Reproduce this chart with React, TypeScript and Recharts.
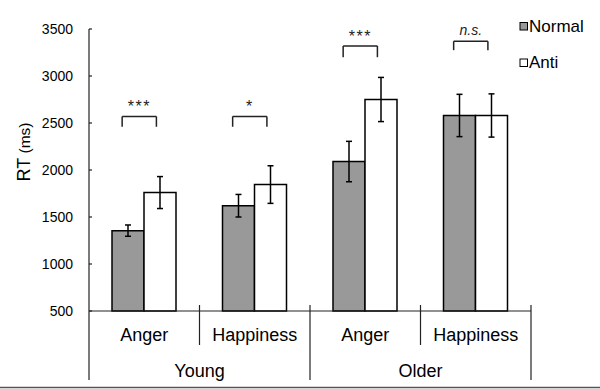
import { BarChart, Bar, XAxis, YAxis, ErrorBar, ReferenceLine, ReferenceDot } from "recharts";

const categories = ["Anger", "Happiness", "Anger", "Happiness"];
const groups = ["Young", "Older"];
const normal = [1355, 1620, 2090, 2580];
const normalErr = [60, 120, 215, 225];
const anti = [1760, 1845, 2750, 2580];
const antiErr = [170, 200, 235, 230];
const yTicks = [500, 1000, 1500, 2000, 2500, 3000, 3500];
const sigLabels = ["***", "*", "***", "n.s."];
const sigTop = [2570, 2570, 3320, 3370];
const sigLeg = [2460, 2460, 3200, 3275];

const FONT = '"Liberation Sans", Arial, sans-serif';
const W = 600, H = 389;
const M = { top: 29, right: 69, bottom: 0, left: 0 };
const Y_W = 89;
const BAND = (W - M.right - Y_W) / categories.length;
const GRAY = "#999999";

// pos = centre of each category band on a 0..n scale, used by the bracket axis
const data = categories.map((cat, i) => ({
  cat, pos: i + 0.5,
  normal: normal[i], normalErr: normalErr[i], anti: anti[i], antiErr: antiErr[i],
}));

function XTick({ x, y, payload, index }: any) {
  const half = BAND / 2;
  const last = index === categories.length - 1;
  return (
    <g>
      <line x1={x - half} x2={x - half} y1={index === 0 ? y : y - 6}
        y2={index % 2 === 0 ? y + 69 : y + 34} stroke="#222" strokeWidth={1.2} />
      {last && <line x1={x + half} x2={x + half} y1={y - 6} y2={y + 69} stroke="#222" strokeWidth={1.2} />}
      <text x={x} y={y + 30} textAnchor="middle" fontSize={18} fontFamily={FONT} fill="#000">{payload.value}</text>
      {index % 2 === 1 && (
        <text x={x - half} y={y + 66} textAnchor="middle" fontSize={18} fontFamily={FONT} fill="#000">
          {groups[(index - 1) / 2]}
        </text>
      )}
    </g>
  );
}

const RtLabel = () => (
  <text transform="translate(30,152) rotate(-90)" textAnchor="middle" fontFamily={FONT} fill="#000">
    <tspan fontSize={18}>RT</tspan><tspan fontSize={15.5}> (ms)</tspan>
  </text>
);

const sigLabel = (text: string) => (props: any) => {
  const { x, y } = props.viewBox;
  const ns = text === "n.s.";
  return (
    <text x={x} y={y - (ns ? 6 : 4)} textAnchor="middle" fontSize={ns ? 14 : 16} fontFamily={FONT} fill="#222"
      letterSpacing={ns ? 0 : 1.5} fontStyle={ns ? "italic" : "normal"}>{text}</text>
  );
};

export default function App() {
  return (
    <div style={{ position: "absolute", left: 0, top: 0, width: W, height: H, background: "#fff" }}>
      <BarChart width={W} height={H} data={data} margin={M} barGap={0} barSize={32}>
        <XAxis dataKey="cat" height={78} tickLine={false} tickSize={0} tickMargin={0}
          axisLine={{ stroke: "#222", strokeWidth: 1.2 }} tick={<XTick />} interval={0} />
        <XAxis xAxisId="b" dataKey="pos" type="number" domain={[0, categories.length]}
          allowDataOverflow hide />
        <YAxis domain={[500, 3500]} ticks={yTicks} width={Y_W} tickSize={-3} tickMargin={19}
          axisLine={{ stroke: "#222", strokeWidth: 1.2 }} tickLine={{ stroke: "#222", strokeWidth: 1.2 }}
          tick={{ fontSize: 14, fontFamily: FONT, fill: "#000" }} label={RtLabel} />
        <Bar dataKey="normal" fill={GRAY} stroke="#000" strokeWidth={1.5} isAnimationActive={false}>
          <ErrorBar dataKey="normalErr" width={3} stroke="#000" strokeWidth={1.5} direction="y" />
        </Bar>
        <Bar dataKey="anti" fill="#fff" stroke="#000" strokeWidth={1.5} isAnimationActive={false}>
          <ErrorBar dataKey="antiErr" width={3} stroke="#000" strokeWidth={1.5} direction="y" />
        </Bar>
        {sigLabels.map((_, i) => [
          <ReferenceLine key={`l${i}`} xAxisId="b" stroke="#222" strokeWidth={1.5}
            segment={[{ x: i + 0.3, y: sigLeg[i] }, { x: i + 0.3, y: sigTop[i] }]} />,
          <ReferenceLine key={`t${i}`} xAxisId="b" stroke="#222" strokeWidth={1.5}
            segment={[{ x: i + 0.3, y: sigTop[i] }, { x: i + 0.61, y: sigTop[i] }]} />,
          <ReferenceLine key={`r${i}`} xAxisId="b" stroke="#222" strokeWidth={1.5}
            segment={[{ x: i + 0.61, y: sigTop[i] }, { x: i + 0.61, y: sigLeg[i] }]} />,
          <ReferenceDot key={`d${i}`} xAxisId="b" x={i + 0.455} y={sigTop[i]} r={0}
            fill="none" stroke="none" label={sigLabel(sigLabels[i])} />,
        ])}
      </BarChart>
      <svg width={W} height={H} style={{ position: "absolute", left: 0, top: 0, pointerEvents: "none" }}>
        <rect x={520} y={22.5} width={7.5} height={7.5} fill={GRAY} stroke="#000" />
        <text x={529} y={32} fontSize={17} fontFamily={FONT} fill="#000">Normal</text>
        <rect x={520} y={59} width={7.5} height={7.5} fill="#fff" stroke="#000" />
        <text x={529} y={67.5} fontSize={17} fontFamily={FONT} fill="#000">Anti</text>
        <line x1={0} x2={W} y1={387.5} y2={387.5} stroke="#555" strokeWidth={1.5} />
      </svg>
    </div>
  );
}
